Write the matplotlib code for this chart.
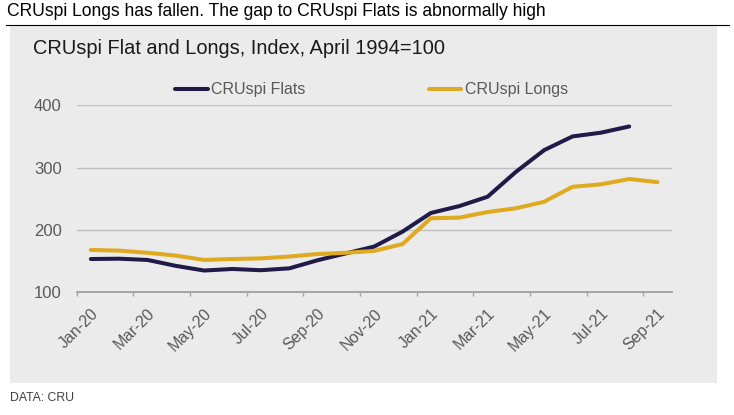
import matplotlib
matplotlib.use("Agg")
import numpy as np
from matplotlib import pyplot as plt
from matplotlib.patches import Rectangle
from matplotlib.lines import Line2D

plt.rcParams['font.family'] = ['Liberation Sans', 'DejaVu Sans']

months = ["Jan-20", "Feb-20", "Mar-20", "Apr-20", "May-20", "Jun-20", "Jul-20",
          "Aug-20", "Sep-20", "Oct-20", "Nov-20", "Dec-20", "Jan-21", "Feb-21",
          "Mar-21", "Apr-21", "May-21", "Jun-21", "Jul-21", "Aug-21", "Sep-21"]
flats = [153, 153.5, 151.5, 142, 134.5, 137, 135, 138, 151, 162, 173, 197,
         227, 238, 253, 293, 328, 350, 356, 366]
longs = [167.5, 166.5, 163, 158.5, 151.5, 153, 154, 157, 161, 163, 166, 177,
         218.5, 219.5, 228.5, 234.5, 245, 269, 273, 281.5, 276.5]
yticks = [100, 200, 300, 400]

NAVY = "#201a48"
GOLD = "#dfa920"
GREY_TXT = "#595959"

fig = plt.figure(figsize=(7.34, 4.15), dpi=100)

# grey panel + rule under the headline
fig.patches.append(Rectangle((10 / 734, 1 - 383 / 415), 707 / 734, 357 / 415,
                             transform=fig.transFigure, facecolor="#ebebeb",
                             edgecolor="none", zorder=-5))
fig.lines.append(Line2D([6 / 734, 729 / 734], [1 - 25.5 / 415] * 2,
                        transform=fig.transFigure, color="black", lw=0.8))

fig.text(7 / 734, 1 - 12 / 415, "CRUspi Longs has fallen. The gap to CRUspi Flats is abnormally high",
         fontsize=12.65, va="center", ha="left", color="black")
fig.text(33 / 734, 1 - 49 / 415, "CRUspi Flat and Longs, Index, April 1994=100",
         fontsize=14.4, va="center", ha="left", color="#1a1a1a")
fig.text(10 / 734, 1 - 398 / 415, "DATA: CRU", fontsize=8.8, va="center", ha="left",
         color="#404040")

ax = fig.add_axes([76.7 / 734, 1 - 292 / 415, 595 / 734, 186.7 / 415])
ax.set_facecolor("none")

ax.plot(range(len(flats)), flats, color=NAVY, lw=2.9, solid_capstyle="round",
        solid_joinstyle="round", label="CRUspi Flats")
ax.plot(range(len(longs)), longs, color=GOLD, lw=2.9, solid_capstyle="round",
        solid_joinstyle="round", label="CRUspi Longs")

ax.set_xlim(-0.5, len(months) - 0.5)
ax.set_ylim(100, 400)

for s in ["left", "right", "top"]:
    ax.spines[s].set_visible(False)
ax.spines["bottom"].set_color("#a6a6a6")
ax.spines["bottom"].set_linewidth(1.4)

ax.set_yticks(yticks)
ax.set_yticklabels([str(v) for v in yticks])
ax.tick_params(axis="y", length=0, pad=10.8, labelsize=12, labelcolor=GREY_TXT)
ax.grid(axis="y", color="#bfbfbf", lw=1)
ax.set_axisbelow(True)

idx = np.arange(len(months))
ax.set_xticks(idx[::2] - 0.5)
ax.set_xticklabels([])
ax.tick_params(axis="x", which="major", length=3, width=1, color="#a6a6a6")
ax.set_xticks(idx[::2], minor=True)
ax.set_xticklabels(months[::2], minor=True, rotation=45, ha="right",
                   va="top", rotation_mode="anchor")
ax.tick_params(axis="x", which="minor", length=0, pad=10, labelsize=11.5,
               labelcolor=GREY_TXT)

ax.legend(loc="center", bbox_to_anchor=(0.4955, 1.082), ncol=2, frameon=False,
          fontsize=11.5, handlelength=2.05, handletextpad=0.2, columnspacing=7.7,
          borderpad=0, labelcolor=GREY_TXT)

fig.savefig("out.png", dpi=100)
